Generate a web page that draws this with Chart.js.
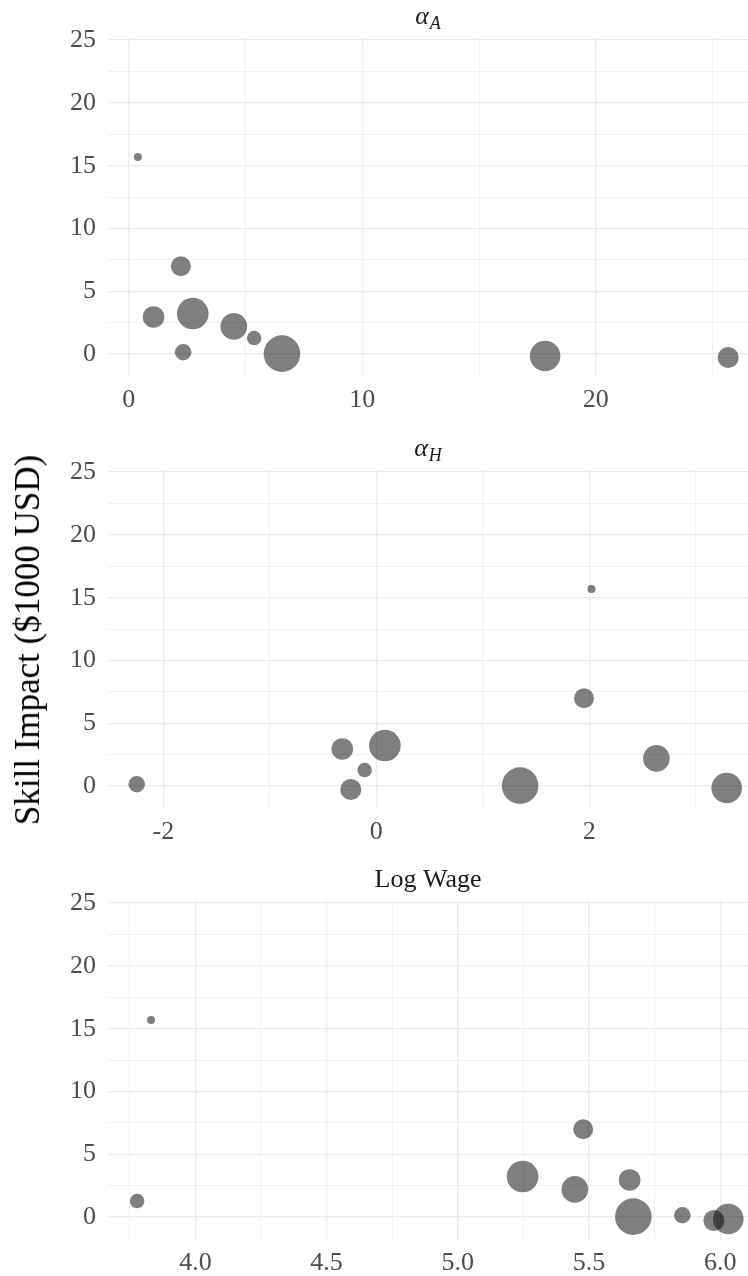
<!DOCTYPE html>
<html>
<head>
<meta charset="utf-8">
<script src="https://cdn.jsdelivr.net/npm/chart.js@4"></script>
<style>
  body { margin: 0; background: #fff; }
  #wrap { position: relative; width: 748px; height: 1276px; overflow: hidden; }
  canvas { position: absolute; left: 0; }
  #ytitle {
    position: absolute; left: 28px; top: 640px;
    transform: translate(-50%, -50%) rotate(-90deg);
    font-family: "Liberation Serif", serif; font-size: 35px; color: #000;
    white-space: nowrap;
  }
</style>
</head>
<body>
<div id="wrap">
  <canvas id="c1" width="748" height="413" style="top:0px"></canvas>
  <canvas id="c2" width="748" height="413" style="top:432px"></canvas>
  <canvas id="c3" width="748" height="413" style="top:863px"></canvas>
  <div id="ytitle">Skill Impact ($1000 USD)</div>
</div>
<script>
// one row per skill, same order in every array
const skillImpact = [15.7, 7.0, 2.96, 3.23, 2.21, 1.28, 0.04, 0.15, -0.15, -0.27];
const alphaA = [0.39, 2.23, 1.06, 2.74, 4.50, 5.37, 6.56, 2.33, 17.83, 25.67];
const alphaH = [2.02, 1.95, -0.32, 0.08, 2.63, -0.11, 1.35, -2.25, 3.29, -0.24];
const logWage = [3.831, 5.478, 5.655, 5.247, 5.446, 3.778, 5.669, 5.856, 6.031, 5.976];
const weight = [1.0, 6.25, 7.3, 15.6, 11.1, 3.3, 20.9, 4.3, 14.6, 6.9];

const yTicks = [0, 5, 10, 15, 20, 25];

const FONT = '"Liberation Serif", serif';
const GRID = '#ebebeb';

// panel title plugin (main text + italic subscript)
const facetTitle = {
    id: 'facetTitle',
    afterDraw(chart, args, opts){
        const ctx = chart.ctx;
        const area = chart.chartArea;
        const cx = (area.left + area.right) / 2;
        const base = area.top - 14;
        ctx.save();
        ctx.fillStyle = '#1a1a1a';
        ctx.textBaseline = 'alphabetic';
        const mainFont = (opts.italic ? 'italic ' : '') + '26px ' + FONT;
        const subFont = 'italic 18px ' + FONT;
        ctx.font = mainFont;
        const w1 = ctx.measureText(opts.main).width;
        let w2 = 0;
        if(opts.sub){ ctx.font = subFont; w2 = ctx.measureText(opts.sub).width + 1; }
        let x = cx - (w1 + w2) / 2;
        ctx.font = mainFont;
        ctx.textAlign = 'left';
        ctx.fillText(opts.main, x, base);
        if(opts.sub){
            ctx.font = subFont;
            ctx.fillText(opts.sub, x + w1 + 1, base + 5);
        }
        ctx.restore();
    }
};

function makePanel(id, xs, xOpts, title){
    const pts = xs.map((x, i) => ({ x: x, y: skillImpact[i], r: 4 * Math.sqrt(weight[i]) }));
    return new Chart(document.getElementById(id), {
        type: 'bubble',
        data: { datasets: [{ data: pts, backgroundColor: 'rgba(0,0,0,0.5)', borderWidth: 0, hoverBorderWidth: 0 }] },
        plugins: [facetTitle],
        options: {
            responsive: false,
            animation: false,
            events: [],
            layout: { autoPadding: false, padding: { top: 38, left: 0, right: 0, bottom: 0 } },
            plugins: {
                legend: { display: false },
                tooltip: { enabled: false },
                facetTitle: title
            },
            scales: {
                x: {
                    type: 'linear',
                    min: xOpts.min, max: xOpts.max,
                    afterFit(s){ s.height = 36; },
                    border: { display: false },
                    grid: {
                        drawTicks: false,
                        color: GRID,
                        lineWidth: c => xOpts.isMajor(c.tick.value) ? 1.3 : 0.7
                    },
                    ticks: {
                        stepSize: xOpts.step,
                        includeBounds: false,
                        autoSkip: false,
                        maxRotation: 0,
                        maxTicksLimit: 100,
                        padding: 8,
                        color: '#4d4d4d',
                        font: { family: FONT, size: 26 },
                        callback: v => xOpts.isMajor(v) ? xOpts.fmt(v) : ''
                    }
                },
                y: {
                    type: 'linear',
                    min: -1.82, max: 25.17,
                    afterFit(s){ s.width = 108; },
                    border: { display: false },
                    grid: {
                        drawTicks: false,
                        color: GRID,
                        lineWidth: c => yTicks.includes(c.tick.value) ? 1.3 : 0.7
                    },
                    ticks: {
                        stepSize: 2.5,
                        includeBounds: false,
                        autoSkip: false,
                        padding: 12,
                        color: '#4d4d4d',
                        font: { family: FONT, size: 26 },
                        callback: v => yTicks.includes(v) ? String(Math.abs(v)) : ''
                    }
                }
            }
        }
    });
}

const near = (v, step) => Math.abs(v / step - Math.round(v / step)) < 1e-6;

makePanel('c1', alphaA,
    { min: -0.89, max: 26.52, step: 5, isMajor: v => near(v, 10), fmt: v => String(Math.round(v)) },
    { main: 'α', sub: 'A', italic: true });
makePanel('c2', alphaH,
    { min: -2.52, max: 3.49, step: 1, isMajor: v => near(v, 2), fmt: v => String(Math.round(v)) },
    { main: 'α', sub: 'H', italic: true });
makePanel('c3', logWage,
    { min: 3.667, max: 6.106, step: 0.25, isMajor: v => near(v, 0.5), fmt: v => v.toFixed(1) },
    { main: 'Log Wage', sub: '', italic: false });
</script>
</body>
</html>
